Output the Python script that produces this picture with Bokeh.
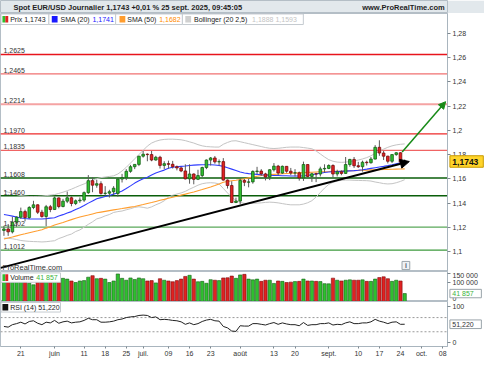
import numpy as np
import pandas as pd
from bokeh.plotting import figure
from bokeh.layouts import column
from bokeh.models import (Range1d, FixedTicker, Span, Label, BoxAnnotation,
                          Arrow, NormalHead, ColumnDataSource)
from bokeh.core.properties import value
from bokeh.embed import file_html
from bokeh.resources import INLINE

# ---------------- data ----------------
dates = pd.bdate_range("2025-05-15", "2025-09-25")

opens = [1.1175,1.1187,1.1163,1.1243,1.1284,1.1330,1.1281,1.1364,1.1386,1.1325,
         1.1290,1.1370,1.1347,1.1443,1.1372,1.1416,1.1444,1.1397,1.1419,1.1425,
         1.1486,1.1585,1.1548,1.1560,1.1480,1.1482,1.1494,1.1480,1.1598,1.1610,
         1.1662,1.1700,1.1719,1.1787,1.1803,1.1800,1.1755,1.1778,1.1711,1.1725,
         1.1720,1.1700,1.1690,1.1665,1.1600,1.1640,1.1596,1.1627,1.1693,1.1755,
         1.1772,1.1740,1.1742,1.1590,1.1545,1.1405,1.1417,1.1587,1.1572,1.1575,
         1.1661,1.1664,1.1641,1.1615,1.1675,1.1705,1.1648,1.1703,1.1663,1.1648,
         1.1650,1.1608,1.1718,1.1620,1.1642,1.1640,1.1682,1.1686,1.1710,1.1640,
         1.1658,1.1645,1.1718,1.1760,1.1708,1.1700,1.1737,1.1733,1.1763,1.1860,
         1.1813,1.1787,1.1745,1.1800,1.1815,1.1738]
highs = [1.1212,1.1228,1.1287,1.1290,1.1363,1.1346,1.1375,1.1419,1.1390,1.1345,
         1.1385,1.1385,1.1455,1.1447,1.1435,1.1495,1.1455,1.1430,1.1447,1.1496,
         1.1631,1.1614,1.1593,1.1580,1.1540,1.1510,1.1540,1.1605,1.1641,1.1680,
         1.1715,1.1720,1.1789,1.1830,1.1810,1.1830,1.1790,1.1790,1.1745,1.1750,
         1.1748,1.1710,1.1700,1.1720,1.1720,1.1645,1.1675,1.1700,1.1760,1.1780,
         1.1788,1.1760,1.1771,1.1595,1.1580,1.1445,1.1600,1.1599,1.1600,1.1670,
         1.1699,1.1680,1.1650,1.1680,1.1730,1.1715,1.1710,1.1705,1.1690,1.1680,
         1.1660,1.1742,1.1720,1.1650,1.1650,1.1700,1.1720,1.1720,1.1720,1.1675,
         1.1670,1.1780,1.1765,1.1780,1.1740,1.1750,1.1750,1.1780,1.1878,1.1918,
         1.1830,1.1790,1.1800,1.1820,1.1819,1.1760]
lows = [1.1130,1.1130,1.1150,1.1205,1.1270,1.1250,1.1270,1.1350,1.1310,1.1280,
        1.1210,1.1325,1.1345,1.1357,1.1365,1.1400,1.1374,1.1384,1.1402,1.1410,
        1.1475,1.1490,1.1527,1.1470,1.1460,1.1446,1.1468,1.1453,1.1570,1.1590,
        1.1650,1.1680,1.1705,1.1775,1.1745,1.1745,1.1750,1.1685,1.1680,1.1685,
        1.1685,1.1670,1.1655,1.1595,1.1560,1.1555,1.1590,1.1615,1.1680,1.1710,
        1.1725,1.1710,1.1585,1.1520,1.1400,1.1400,1.1391,1.1540,1.1530,1.1560,
        1.1640,1.1625,1.1587,1.1590,1.1660,1.1630,1.1640,1.1650,1.1630,1.1620,
        1.1585,1.1583,1.1610,1.1575,1.1573,1.1620,1.1650,1.1680,1.1610,1.1620,
        1.1630,1.1640,1.1700,1.1690,1.1690,1.1660,1.1710,1.1725,1.1760,1.1790,
        1.1755,1.1727,1.1730,1.1790,1.1725,1.1735]
closes = [1.1187,1.1163,1.1243,1.1284,1.1330,1.1281,1.1364,1.1386,1.1325,1.1290,
          1.1370,1.1347,1.1443,1.1372,1.1416,1.1444,1.1397,1.1419,1.1425,1.1486,
          1.1585,1.1548,1.1560,1.1480,1.1482,1.1494,1.1523,1.1598,1.1610,1.1662,
          1.1700,1.1719,1.1787,1.1803,1.1800,1.1755,1.1778,1.1711,1.1725,1.1720,
          1.1700,1.1690,1.1665,1.1600,1.1640,1.1596,1.1627,1.1693,1.1755,1.1772,
          1.1740,1.1742,1.1590,1.1545,1.1405,1.1417,1.1587,1.1572,1.1575,1.1661,
          1.1664,1.1641,1.1615,1.1675,1.1705,1.1648,1.1703,1.1663,1.1648,1.1650,
          1.1608,1.1718,1.1620,1.1642,1.1640,1.1682,1.1686,1.1710,1.1640,1.1658,
          1.1645,1.1718,1.1760,1.1708,1.1700,1.1737,1.1733,1.1763,1.1860,1.1813,
          1.1787,1.1745,1.1800,1.1815,1.1738,1.1743]
sma20 = [1.1306,1.1300,1.1293,1.1285,1.1277,1.1273,1.1270,1.1269,1.1269,1.1269,
         1.1272,1.1276,1.1280,1.1294,1.1305,1.1318,1.1330,1.1348,1.1362,1.1380,
         1.1400,1.1418,1.1436,1.1445,1.1455,1.1463,1.1474,1.1485,1.1500,1.1520,
         1.1542,1.1565,1.1585,1.1600,1.1614,1.1632,1.1648,1.1660,1.1672,1.1688,
         1.1696,1.1700,1.1703,1.1706,1.1710,1.1713,1.1715,1.1716,1.1716,1.1716,
         1.1714,1.1710,1.1703,1.1692,1.1680,1.1668,1.1656,1.1648,1.1643,1.1640,
         1.1637,1.1634,1.1632,1.1630,1.1628,1.1627,1.1626,1.1625,1.1624,1.1624,
         1.1624,1.1625,1.1628,1.1634,1.1640,1.1646,1.1652,1.1656,1.1658,1.1660,
         1.1662,1.1664,1.1666,1.1668,1.1671,1.1675,1.1680,1.1686,1.1692,1.1698,
         1.1703,1.1709,1.1716,1.1724,1.1732,1.1741]
sma50 = [1.1104,1.1113,1.1121,1.1130,1.1139,1.1147,1.1156,1.1164,1.1172,1.1181,
         1.1194,1.1206,1.1219,1.1230,1.1241,1.1253,1.1264,1.1275,1.1285,1.1294,
         1.1302,1.1311,1.1320,1.1326,1.1332,1.1338,1.1344,1.1350,1.1355,1.1361,
         1.1367,1.1372,1.1380,1.1388,1.1397,1.1405,1.1414,1.1423,1.1431,1.1440,
         1.1449,1.1457,1.1466,1.1474,1.1483,1.1492,1.1502,1.1512,1.1523,1.1533,
         1.1545,1.1558,1.1572,1.1578,1.1584,1.1589,1.1595,1.1601,1.1608,1.1614,
         1.1621,1.1628,1.1632,1.1635,1.1637,1.1639,1.1642,1.1644,1.1646,1.1647,
         1.1649,1.1651,1.1653,1.1655,1.1657,1.1658,1.1659,1.1660,1.1662,1.1663,
         1.1664,1.1666,1.1667,1.1668,1.1670,1.1671,1.1672,1.1674,1.1675,1.1676,
         1.1677,1.1678,1.1679,1.1680,1.1681,1.1682]
bb_upper = [1.1500,1.1490,1.1480,1.1470,1.1462,1.1458,1.1455,1.1455,1.1456,1.1458,
            1.1462,1.1466,1.1470,1.1480,1.1490,1.1502,1.1515,1.1530,1.1545,1.1558,
            1.1575,1.1590,1.1602,1.1610,1.1615,1.1620,1.1625,1.1640,1.1665,1.1695,
            1.1730,1.1765,1.1800,1.1835,1.1870,1.1895,1.1910,1.1920,1.1925,1.1927,
            1.1927,1.1925,1.1922,1.1915,1.1905,1.1895,1.1882,1.1872,1.1866,1.1864,
            1.1862,1.1862,1.1885,1.1900,1.1912,1.1914,1.1906,1.1898,1.1890,1.1882,
            1.1874,1.1866,1.1858,1.1852,1.1850,1.1852,1.1856,1.1860,1.1862,1.1862,
            1.1862,1.1858,1.1853,1.1848,1.1830,1.1805,1.1780,1.1758,1.1745,1.1738,
            1.1736,1.1738,1.1742,1.1748,1.1755,1.1764,1.1775,1.1790,1.1810,1.1828,
            1.1845,1.1860,1.1872,1.1880,1.1885,1.1888]
bb_lower = [1.1112,1.1110,1.1106,1.1100,1.1092,1.1088,1.1085,1.1083,1.1082,1.1080,
            1.1082,1.1086,1.1090,1.1108,1.1120,1.1134,1.1145,1.1166,1.1179,1.1202,
            1.1225,1.1246,1.1270,1.1280,1.1295,1.1306,1.1323,1.1330,1.1335,1.1345,
            1.1354,1.1365,1.1370,1.1365,1.1358,1.1369,1.1386,1.1400,1.1419,1.1449,
            1.1465,1.1475,1.1484,1.1497,1.1515,1.1531,1.1548,1.1560,1.1566,1.1568,
            1.1566,1.1558,1.1521,1.1484,1.1448,1.1422,1.1406,1.1398,1.1396,1.1398,
            1.1400,1.1402,1.1406,1.1408,1.1406,1.1402,1.1396,1.1390,1.1386,1.1386,
            1.1386,1.1392,1.1403,1.1420,1.1450,1.1487,1.1524,1.1554,1.1571,1.1582,
            1.1588,1.1590,1.1590,1.1588,1.1587,1.1586,1.1585,1.1582,1.1574,1.1568,
            1.1561,1.1558,1.1560,1.1568,1.1579,1.1593]
volume = [110000,105000,112000,108000,118000,104000,96000,88000,105000,110000,
          118000,112000,115000,108000,122000,118000,108000,100000,108000,110000,
          128000,136000,120000,122000,118000,100000,108000,145000,122000,112000,
          124000,116000,124000,120000,108000,110000,98000,120000,112000,108000,
          104000,110000,118000,132000,138000,118000,104000,106000,96000,115000,
          112000,110000,124000,125000,134000,122000,140000,143000,118000,114000,
          118000,106000,112000,112000,95000,108000,106000,100000,102000,105000,
          106000,118000,108000,108000,106000,105000,94000,93000,123000,112000,
          108000,112000,114000,112000,112000,114000,106000,106000,118000,126000,
          130000,120000,106000,112000,108000,41857]
rsi = [45,43,50,53,57,52,59,61,54,50,
       57,55,62,54,58,60,55,57,58,62,
       68,64,64,57,57,58,60,64,66,70,
       72,73,76,77,76,70,72,64,65,64,
       62,61,58,51,55,50,53,59,63,65,
       61,60,45,41,32,31,47,46,46,53,
       53,51,49,53,56,51,55,52,50,50,
       47,56,48,50,50,53,53,55,49,51,
       50,55,58,53,53,55,55,58,65,60,
       57,53,57,58,51,51.22]

levels = [1.2625, 1.2465, 1.2214, 1.1970, 1.1835, 1.1608, 1.1460, 1.1202, 1.1012]
level_labels = ["1,2625", "1,2465", "1,2214", "1,1970", "1,1835", "1,1608", "1,1460", "1,1202", "1,1012"]
trend_x = [-0.8, 96.1]          # trading-day positions
trend_y = [1.0866, 1.1743]
target_x = [94.4, 104.7]
target_y = [1.1822, 1.2236]

price_ticks = [1.10, 1.12, 1.14, 1.16, 1.18, 1.20, 1.22, 1.24, 1.26, 1.28]
price_tick_labels = ["1,1", "1,12", "1,14", "1,16", "1,18", "1,2", "1,22", "1,24", "1,26", "1,28"]
x_ticks = [4, 12, 19, 24, 29, 33, 39, 44, 49, 56, 64, 69, 77, 84, 89, 94, 99, 104]
x_tick_labels = ["21", "juin", "11", "18", "25", "juil.", "09", "16", "23", "août",
                 "13", "20", "sept.", "10", "17", "24", "oct.", "08"]
vol_ticks = [0, 100000, 150000]
vol_tick_labels = ["0", "100 000", "150 000"]
rsi_ticks = [0, 100]
rsi_tick_labels = ["0", "100"]

title_text = "Spot EUR/USD Journalier 1,1743 +0,01 % 25 sept. 2025, 09:45:05"
last_price, last_sma20, last_sma50 = "1,1743", "1,1741", "1,1682"
last_bb = "1,1888  1,1593"
last_vol, last_rsi = "41 857", "51,220"

# ---------------- styles / layout ----------------
FONT = "Liberation Sans"
W = 484
FW = 447
RB = W - FW
UP, DOWN = "#2fbf2f", "#e02222"
UP_EDGE, DOWN_EDGE = "#175e17", "#7a0c0c"
LEVEL_COLORS = ["#e8141c", "#f07070", "#f5a3a3", "#ee2a2a", "#f06464",
                "#0a5e0a", "#0a5e0a", "#5aa85a", "#3d9a3d"]
LEVEL_WIDTHS = [1.5, 1.2, 2.0, 1.2, 1.2, 1.5, 1.5, 1.2, 1.2]

def fx(px):   # reference pixel column -> trading-day position
    return (px - 21.0) / 4.36 + 4.0

def fy(py):   # reference pixel row -> price (main panel)
    return 1.1 + (262.3 - py) / 1265.0

def py_price(v):
    return 262.3 - (v - 1.1) * 1265.0

VOL_TOP = 158000.0
def vy(py):
    return VOL_TOP * (315.0 - py) / 32.0

def py_vol(v):
    return 315.0 - v / VOL_TOP * 32.0

RSI_LO, RSI_HI = -11.6, 115.4
def ry(py):
    return RSI_HI - (py - 315.0) * (RSI_HI - RSI_LO) / 47.0

def py_rsi(v):
    return 315.0 + (RSI_HI - v) * 47.0 / (RSI_HI - RSI_LO)

xr = Range1d(fx(0), fx(462))

def style_axis(ax):
    ax.axis_line_color = "#a9b5be"
    ax.major_tick_line_color = "#7d8890"
    ax.major_tick_in = 0
    ax.major_tick_out = 3
    ax.minor_tick_line_color = None
    ax.major_label_text_font = FONT
    ax.major_label_text_font_size = "7px"
    ax.major_label_text_color = "#333333"
    ax.major_label_standoff = 2

def panel(height, y_range, x_axis=None):
    p = figure(width=W, height=height, x_range=xr, y_range=y_range, title=None,
               toolbar_location=None, tools="", output_backend="svg",
               x_axis_location=x_axis, y_axis_location="right",
               min_border_left=0, min_border_right=RB, min_border_top=0, min_border_bottom=0,
               background_fill_color="white", border_fill_color="white",
               outline_line_color="#b4bec6")
    p.grid.visible = False
    style_axis(p.yaxis[0])
    return p

def lab(p, x, y, text, color="#222222", size="7px", bold=False, align="left"):
    p.add_layout(Label(x=x, y=y, text=text, text_font=FONT, text_font_size=size,
                       text_color=color, text_baseline="middle", text_align=align,
                       text_font_style="bold" if bold else "normal"))

def box(p, l, r, t, b, color="white", line="#c5cbd0"):
    p.add_layout(BoxAnnotation(left=l, right=r, top=t, bottom=b, fill_color=color,
                               fill_alpha=1, line_color=line, line_alpha=1 if line else 0,
                               line_width=1))

def value_box(p, yval, conv, back, text, fill, edge, color, bold=False, size="7px",
              x0=464.5, x1=497.0, half=5.0):
    # box drawn in the axis area, on the overlay level so that it is not clipped
    pyc = conv(yval)
    p.quad(left=[fx(x0)], right=[fx(x1)], top=[back(pyc - half)], bottom=[back(pyc + half)],
           fill_color=fill, line_color=edge, line_width=1, level="overlay")
    p.text(x=[fx(x0 + 2.5)], y=[yval], text=[text], text_font=value(FONT), text_font_size=size,
           text_font_style="bold" if bold else "normal", text_color=color,
           text_baseline="middle", level="overlay")

x = np.arange(len(dates))
o = np.array(opens); c = np.array(closes)
up = c >= o
src = ColumnDataSource(dict(
    x=x, high=highs, low=lows,
    top=np.maximum(o, c), bottom=np.minimum(o, c),
    fill=[UP if u else DOWN for u in up], edge=[UP_EDGE if u else DOWN_EDGE for u in up],
    vol=volume, rsi=rsi, sma20=sma20, sma50=sma50, bbu=bb_upper, bbl=bb_lower))

# ---------------- header ----------------
header = figure(width=W, height=13, x_range=Range1d(0, W), y_range=Range1d(0, 13), title=None,
                toolbar_location=None, tools="", output_backend="svg",
                x_axis_location=None, y_axis_location=None, min_border=0,
                background_fill_color="#e2e8ec", border_fill_color="#e2e8ec",
                outline_line_color="#b4bec6")
header.grid.visible = False
header.text(x=[14], y=[6.5], text=[title_text], text_font=value(FONT), text_font_size="7.5px",
            text_font_style="bold", text_baseline="middle", text_color="#1e1e1e")
header.text(x=[W - 3], y=[6.5], text=["www.ProRealTime.com"], text_font=value(FONT),
            text_font_size="7.5px", text_font_style="bold", text_baseline="middle",
            text_align="right", text_color="#1e1e1e")

# ---------------- main price panel ----------------
main = panel(258, Range1d(fy(283), fy(14)))
ay = main.yaxis[0]
ay.ticker = FixedTicker(ticks=price_ticks)
ay.major_label_overrides = {t: s for t, s in zip(price_ticks, price_tick_labels)}

for lv, col, lw in zip(levels, LEVEL_COLORS, LEVEL_WIDTHS):
    main.add_layout(Span(location=lv, dimension="width", line_color=col, line_width=lw,
                         level="underlay"))

main.line("x", "bbu", source=src, line_color="#c4c4c4", line_width=1)
main.line("x", "bbl", source=src, line_color="#c4c4c4", line_width=1)
main.line("x", "sma50", source=src, line_color="#ff9d2e", line_width=1.1)
main.line("x", "sma20", source=src, line_color="#2f3cff", line_width=1.1)
main.segment(x0="x", y0="low", x1="x", y1="high", source=src, line_color="#5a5a5a", line_width=1)
main.vbar(x="x", width=0.62, top="top", bottom="bottom", source=src,
          fill_color="fill", line_color="edge", line_width=0.8)

main.text(x=[fx(3)] * len(levels), y=levels, text=level_labels, text_font=value(FONT),
          text_font_size="7px", text_color="#333333", text_baseline="bottom", y_offset=-1)

main.add_layout(Arrow(end=NormalHead(size=9, fill_color="black", line_color="black"),
                      x_start=trend_x[0], y_start=trend_y[0], x_end=trend_x[1], y_end=trend_y[1],
                      line_color="black", line_width=2))
main.add_layout(Arrow(end=NormalHead(size=7, fill_color="#178a17", line_color="#178a17"),
                      x_start=target_x[0], y_start=target_y[0], x_end=target_x[1], y_end=target_y[1],
                      line_color="#178a17", line_width=1.5))

# legend row
ly_t, ly_b, ly_m = fy(14.5), fy(25.5), fy(20)
it, ib = fy(16.5), fy(23.5)
box(main, fx(0.5), fx(50), ly_t, ly_b)
box(main, fx(50), fx(119), ly_t, ly_b)
box(main, fx(119), fx(188), ly_t, ly_b)
box(main, fx(188), fx(313), ly_t, ly_b)
box(main, fx(2), fx(5), it, ib, UP, None)
box(main, fx(5), fx(8), it, ib, DOWN, None)
box(main, fx(53), fx(59), it, ib, "#1a1aff", None)
box(main, fx(123), fx(129), it, ib, "#ff9d2e", None)
box(main, fx(191), fx(197), it, ib, "#d0d0d0", None)
lab(main, fx(10), ly_m, "Prix " + last_price)
lab(main, fx(62), ly_m, "SMA (20)")
lab(main, fx(95), ly_m, last_sma20, color="#1a1aff")
lab(main, fx(131), ly_m, "SMA (50)")
lab(main, fx(164), ly_m, last_sma50, color="#ff8c00")
lab(main, fx(200), ly_m, "Bollinger (20 2,5)")
lab(main, fx(260), ly_m, last_bb, color="#c4c4c4")

lab(main, fx(2), fy(278.5), "ProRealTime.com", color="#333333", size="7.5px")
box(main, fx(415), fx(423), fy(272.5), fy(281), "#eef1f4", "#9aa4aa")
lab(main, fx(419), fy(276.8), "i", color="#556070", size="7px", bold=True, align="center")

value_box(main, closes[-1], py_price, fy, last_price, "#ffd42a", "#c89a00", "#111111",
          bold=True, size="8.5px", x1=499.0, half=6.0)

# ---------------- volume panel ----------------
vol = panel(30, Range1d(0, VOL_TOP))
av = vol.yaxis[0]
av.ticker = FixedTicker(ticks=vol_ticks)
av.major_label_overrides = {t: s for t, s in zip(vol_ticks, vol_tick_labels)}
vol.vbar(x="x", width=0.78, top="vol", bottom=0, source=src,
         fill_color="fill", line_color="edge", line_width=0.6)
box(vol, fx(0.5), fx(62), vy(284.5), vy(294.5))
box(vol, fx(2), fx(5), vy(286), vy(293), UP, None)
box(vol, fx(5), fx(8), vy(286), vy(293), DOWN, None)
lab(vol, fx(10), vy(289.5), "Volume")
lab(vol, fx(37), vy(289.5), last_vol, color="#3cb43c")
value_box(vol, volume[-1], py_vol, vy, last_vol, "white", "#9aa4aa", "#3cb43c", half=4.5)

# ---------------- RSI panel ----------------
rp = panel(58, Range1d(RSI_LO, RSI_HI), x_axis="below")
ar = rp.yaxis[0]
ar.ticker = FixedTicker(ticks=rsi_ticks)
ar.major_label_overrides = {t: s for t, s in zip(rsi_ticks, rsi_tick_labels)}
ax = rp.xaxis[0]
style_axis(ax)
ax.major_tick_out = 2
ax.major_label_standoff = 1
ax.ticker = FixedTicker(ticks=x_ticks)
ax.major_label_overrides = {t: s for t, s in zip(x_ticks, x_tick_labels)}
for lv in (70, 30):
    rp.add_layout(Span(location=lv, dimension="width", line_color="#9a9a9a", line_width=1,
                       line_dash="2 2", level="underlay"))
rp.line("x", "rsi", source=src, line_color="#222222", line_width=1)
box(rp, fx(0.5), fx(62), ry(316), ry(326))
box(rp, fx(2), fx(8), ry(317.5), ry(324.5), "#111111", None)
lab(rp, fx(10), ry(321), "RSI (14) " + last_rsi)
value_box(rp, rsi[-1], py_rsi, ry, last_rsi, "white", "#9aa4aa", "#333333", half=4.5)

layout = column(header, main, vol, rp, spacing=0)
open("out.html", "w").write(file_html(layout, INLINE))
